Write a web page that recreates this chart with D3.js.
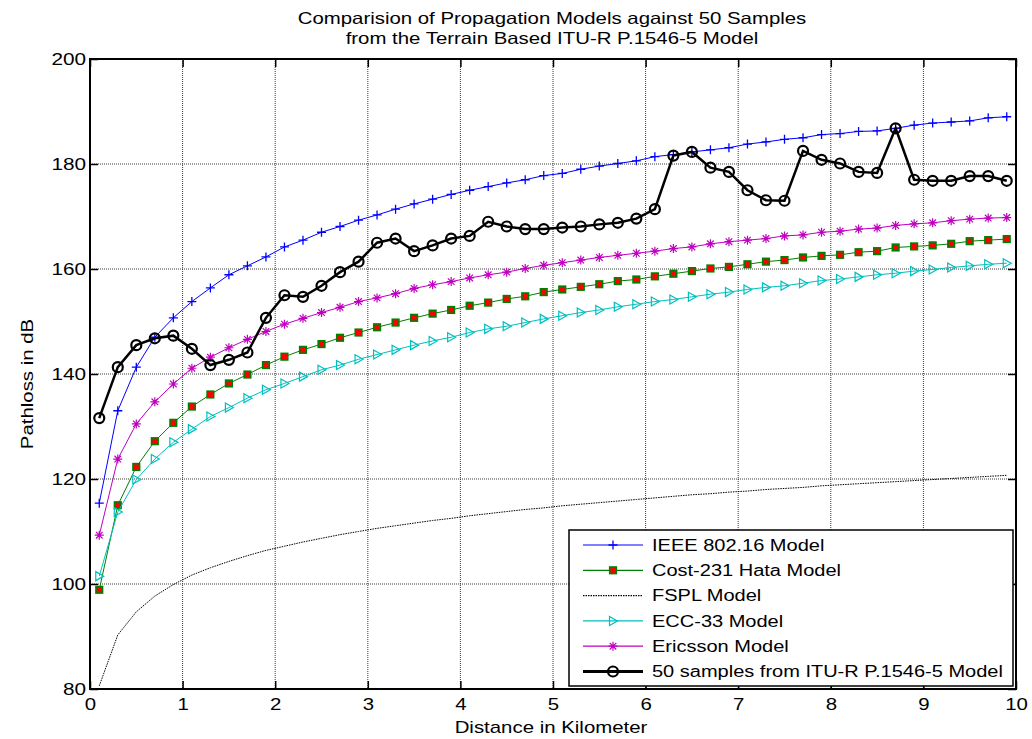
<!DOCTYPE html>
<html>
<head>
<meta charset="utf-8">
<script src="https://cdn.jsdelivr.net/npm/d3@7"></script>
<style>
  body { margin: 0; background: #fff; }
  text { font-family: "Liberation Sans", Arial, sans-serif; fill: #000; }
</style>
</head>
<body>
<svg id="chart" width="1032" height="739"></svg>
<script>
// ---------- Data ---------- //

var distanceKm = [0.1, 0.3, 0.5, 0.7, 0.9, 1.1, 1.3, 1.5, 1.7, 1.9,
  2.1, 2.3, 2.5, 2.7, 2.9, 3.1, 3.3, 3.5, 3.7, 3.9,
  4.1, 4.3, 4.5, 4.7, 4.9, 5.1, 5.3, 5.5, 5.7, 5.9,
  6.1, 6.3, 6.5, 6.7, 6.9, 7.1, 7.3, 7.5, 7.7, 7.9,
  8.1, 8.3, 8.5, 8.7, 8.9, 9.1, 9.3, 9.5, 9.7, 9.9];

var ieee80216 = [115.4, 133.0, 141.3, 147.0, 150.7, 153.8, 156.4, 158.9, 160.6, 162.3,
  164.2, 165.5, 167.0, 168.1, 169.3, 170.3, 171.4, 172.4, 173.3, 174.2,
  175.0, 175.7, 176.4, 177.0, 177.8, 178.2, 179.0, 179.6, 180.1, 180.6,
  181.4, 181.8, 182.3, 182.7, 183.1, 183.8, 184.2, 184.7, 185.0, 185.6,
  185.8, 186.2, 186.3, 186.8, 187.4, 187.8, 188.0, 188.2, 188.8, 189.0];

var cost231Hata = [98.9, 115.0, 122.3, 127.2, 130.7, 133.8, 136.1, 138.2, 139.9, 141.7,
  143.3, 144.6, 145.7, 146.9, 147.9, 148.9, 149.8, 150.7, 151.5, 152.2,
  153.0, 153.6, 154.3, 154.8, 155.6, 156.1, 156.6, 157.1, 157.7, 158.0,
  158.6, 159.1, 159.6, 160.1, 160.4, 160.9, 161.4, 161.7, 162.2, 162.5,
  162.7, 163.2, 163.4, 164.1, 164.3, 164.5, 164.8, 165.3, 165.5, 165.7];

var fspl = [80.6, 90.3, 94.7, 97.7, 99.9, 101.7, 103.1, 104.3, 105.4, 106.4,
  107.2, 108.0, 108.7, 109.4, 110.0, 110.6, 111.1, 111.6, 112.1, 112.5,
  113.0, 113.4, 113.8, 114.2, 114.5, 114.9, 115.2, 115.5, 115.8, 116.1,
  116.4, 116.7, 117.0, 117.2, 117.5, 117.7, 118.0, 118.2, 118.4, 118.7,
  118.9, 119.1, 119.3, 119.5, 119.7, 119.9, 120.1, 120.3, 120.5, 120.7];

var ecc33 = [101.5, 113.7, 119.9, 123.8, 127.0, 129.5, 131.9, 133.6, 135.4, 137.0,
  138.2, 139.5, 140.8, 141.7, 142.8, 143.7, 144.6, 145.5, 146.3, 147.0,
  147.9, 148.6, 149.1, 149.8, 150.5, 151.1, 151.7, 152.2, 152.8, 153.3,
  153.8, 154.2, 154.7, 155.2, 155.6, 156.1, 156.5, 156.8, 157.3, 157.8,
  158.1, 158.5, 158.9, 159.2, 159.6, 159.9, 160.3, 160.6, 160.9, 161.1];

var ericsson = [109.3, 123.8, 130.5, 134.7, 138.1, 141.1, 143.2, 145.0, 146.6, 148.1,
  149.5, 150.6, 151.7, 152.7, 153.8, 154.5, 155.3, 156.3, 157.0, 157.6,
  158.3, 158.9, 159.4, 160.1, 160.7, 161.2, 161.7, 162.2, 162.6, 163.0,
  163.4, 163.9, 164.2, 164.8, 165.2, 165.5, 165.8, 166.3, 166.5, 167.0,
  167.2, 167.6, 167.8, 168.3, 168.6, 168.8, 169.2, 169.5, 169.7, 169.8];

var ituSamples = [131.6, 141.3, 145.5, 146.8, 147.3, 144.8, 141.7, 142.7, 144.1, 150.7,
  155.0, 154.7, 156.8, 159.4, 161.4, 165.0, 165.8, 163.4, 164.5, 165.8,
  166.3, 169.0, 168.1, 167.6, 167.6, 167.9, 168.1, 168.5, 168.8, 169.6,
  171.4, 181.6, 182.3, 179.3, 178.5, 175.0, 173.1, 173.0, 182.5, 180.8,
  180.1, 178.5, 178.3, 186.8, 177.0, 176.8, 176.8, 177.7, 177.7, 176.8];

var xTicks = [0, 1, 2, 3, 4, 5, 6, 7, 8, 9, 10];
var yTicks = [80, 100, 120, 140, 160, 180, 200];

var legendLabels = ["IEEE 802.16 Model", "Cost-231 Hata Model", "FSPL Model",
  "ECC-33 Model", "Ericsson Model", "50 samples from ITU-R P.1546-5 Model"];

var titleLines = ["Comparision of Propagation Models against 50 Samples",
  "from the Terrain Based ITU-R P.1546-5 Model"];

// ---------- Layout ---------- //

var plotLeft = 90, plotTop = 59, plotRight = 1016, plotBottom = 689;

var svg = d3.select("#chart");

var x = d3.scaleLinear().domain([0, 10]).range([plotLeft, plotRight]);
var y = d3.scaleLinear().domain([80, 200]).range([plotBottom, plotTop]);

// widen glyphs horizontally like the original rendering
function widen(sel, k) {
	sel.each(function() {
		var w = this.getComputedTextLength();
		d3.select(this)
			.attr("textLength", w * k)
			.attr("lengthAdjust", "spacingAndGlyphs");
	});
}

// white plot area
svg.append("rect")
	.attr("x", plotLeft).attr("y", plotTop)
	.attr("width", plotRight - plotLeft).attr("height", plotBottom - plotTop)
	.attr("fill", "#fff");

// --- Grid --- //
var grid = svg.append("g");
grid.selectAll(".gx").data(xTicks.slice(1, -1)).enter().append("line")
	.attr("x1", function(d) { return x(d); })
	.attr("x2", function(d) { return x(d); })
	.attr("y1", plotTop).attr("y2", plotBottom)
	.attr("stroke", "#3a3a3a").attr("stroke-width", 1)
	.attr("stroke-dasharray", "1,1");
grid.selectAll(".gy").data(yTicks.slice(1, -1)).enter().append("line")
	.attr("y1", function(d) { return y(d); })
	.attr("y2", function(d) { return y(d); })
	.attr("x1", plotLeft).attr("x2", plotRight)
	.attr("stroke", "#3a3a3a").attr("stroke-width", 1)
	.attr("stroke-dasharray", "1,1");

// --- Axes (ticks inside, as in MATLAB) --- //
var xAxis = svg.append("g")
	.attr("transform", "translate(0," + plotBottom + ")")
	.call(d3.axisBottom(x).tickValues(xTicks).tickSize(-8).tickPadding(9).tickFormat(d3.format("d")));
var yAxis = svg.append("g")
	.attr("transform", "translate(" + plotLeft + ",0)")
	.call(d3.axisLeft(y).tickValues(yTicks).tickSize(-8).tickPadding(4).tickFormat(d3.format("d")));
svg.append("g")
	.attr("transform", "translate(0," + plotTop + ")")
	.call(d3.axisTop(x).tickValues(xTicks).tickSize(-8).tickFormat(""));
svg.append("g")
	.attr("transform", "translate(" + plotRight + ",0)")
	.call(d3.axisRight(y).tickValues(yTicks).tickSize(-8).tickFormat(""));

svg.selectAll(".domain").remove();
svg.selectAll(".tick line").attr("stroke", "#000").attr("stroke-width", 1.5);
svg.selectAll(".tick text")
	.attr("font-size", "17px")
	.attr("font-family", "Liberation Sans, Arial, sans-serif")
	.attr("fill", "#000");
xAxis.selectAll(".tick text").call(widen, 1.2);
yAxis.selectAll(".tick text").call(widen, 1.22);

// --- Markers --- //
function drawMarker(g, type, color) {
	if (type === "plus") {
		g.append("path").attr("d", "M-4.5,0H4.5M0,-4.5V4.5")
			.attr("stroke", color).attr("stroke-width", 1.3).attr("fill", "none");
	} else if (type === "square") {
		g.append("rect").attr("x", -3.3).attr("y", -3.3).attr("width", 6.6).attr("height", 6.6)
			.attr("fill", "#ff0000").attr("stroke", color).attr("stroke-width", 1.6);
	} else if (type === "triangle") {
		g.append("path").attr("d", "M-3.5,-4.5L4.5,0L-3.5,4.5Z")
			.attr("fill", "none").attr("stroke", color).attr("stroke-width", 1.2);
	} else if (type === "star") {
		g.append("path").attr("d", "M-4.5,0H4.5M0,-4.5V4.5M-3.3,-3.3L3.3,3.3M-3.3,3.3L3.3,-3.3")
			.attr("stroke", color).attr("stroke-width", 1.2).attr("fill", "none");
	} else if (type === "circle") {
		g.append("circle").attr("r", 5)
			.attr("fill", "none").attr("stroke", color).attr("stroke-width", 2.2);
	}
}

var seriesValues = [ieee80216, cost231Hata, fspl, ecc33, ericsson, ituSamples];
var seriesStyle = [
	{ color: "#0000ff", width: 1, dash: null, marker: "plus" },
	{ color: "#008000", width: 1, dash: null, marker: "square" },
	{ color: "#000000", width: 1, dash: "1.5,1", marker: null },
	{ color: "#00bfbf", width: 1, dash: null, marker: "triangle" },
	{ color: "#bf00bf", width: 1, dash: null, marker: "star" },
	{ color: "#000000", width: 2.5, dash: null, marker: "circle" }
];

var line = d3.line()
	.x(function(d) { return x(d[0]); })
	.y(function(d) { return y(d[1]); });

var plot = svg.append("g");
seriesValues.forEach(function(vals, i) {
	var st = seriesStyle[i];
	var pts = distanceKm.map(function(d, j) { return [d, vals[j]]; });
	var g = plot.append("g");
	g.append("path")
		.datum(pts)
		.attr("d", line)
		.attr("fill", "none")
		.attr("stroke", st.color)
		.attr("stroke-width", st.width)
		.attr("stroke-dasharray", st.dash);
	if (st.marker) {
		pts.forEach(function(p) {
			var m = g.append("g").attr("transform", "translate(" + x(p[0]) + "," + y(p[1]) + ")");
			drawMarker(m, st.marker, st.color);
		});
	}
});

// --- Axes box --- //
svg.append("rect")
	.attr("x", plotLeft).attr("y", plotTop)
	.attr("width", plotRight - plotLeft).attr("height", plotBottom - plotTop)
	.attr("fill", "none").attr("stroke", "#000").attr("stroke-width", 2);

// --- Legend --- //
var legend = svg.append("g");
legend.append("rect")
	.attr("x", 569).attr("y", 530).attr("width", 444).attr("height", 156)
	.attr("fill", "#fff").attr("stroke", "#000").attr("stroke-width", 1.5);

legendLabels.forEach(function(label, i) {
	var st = seriesStyle[i];
	var ly = 545 + i * 25.3;
	legend.append("line")
		.attr("x1", 583).attr("x2", 643).attr("y1", ly).attr("y2", ly)
		.attr("stroke", st.color)
		.attr("stroke-width", st.width === 1 ? 1.2 : 3)
		.attr("stroke-dasharray", st.dash);
	if (st.marker) {
		var m = legend.append("g").attr("transform", "translate(613," + ly + ")");
		drawMarker(m, st.marker, st.color);
	}
	legend.append("text")
		.attr("x", 652).attr("y", ly)
		.attr("dy", "0.36em")
		.attr("font-size", "16px")
		.text(label)
		.call(widen, 1.25);
});

// --- Titles --- //
svg.selectAll(".title").data(titleLines).enter().append("text")
	.attr("x", 552)
	.attr("y", function(d, i) { return 24 + i * 20; })
	.attr("text-anchor", "middle")
	.attr("font-size", "16.5px")
	.text(function(d) { return d; })
	.call(widen, 1.235);

svg.append("text")
	.attr("x", 551)
	.attr("y", 733)
	.attr("text-anchor", "middle")
	.attr("font-size", "17px")
	.text("Distance in Kilometer")
	.call(widen, 1.2);

svg.append("text")
	.attr("transform", "translate(33,384) rotate(-90)")
	.attr("text-anchor", "middle")
	.attr("font-size", "17px")
	.text("Pathloss in dB")
	.call(widen, 1.2);
</script>
</body>
</html>
